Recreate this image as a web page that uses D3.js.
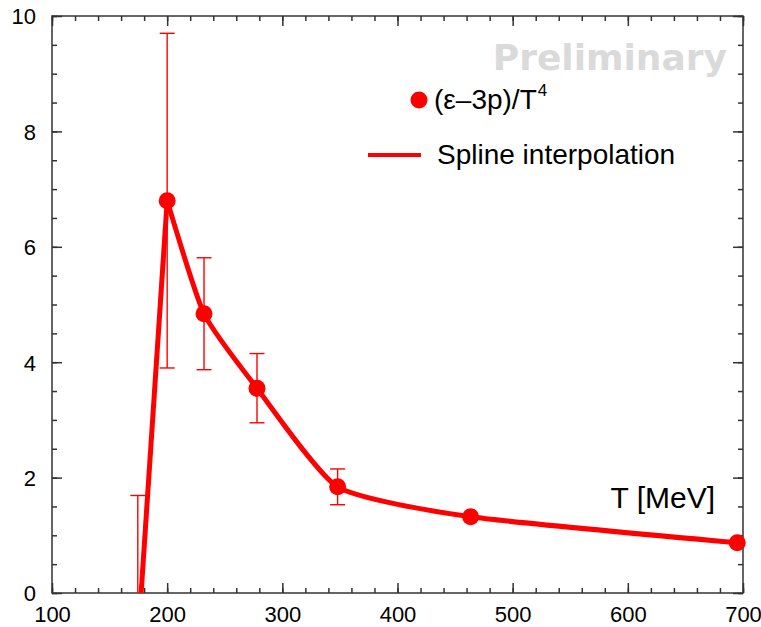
<!DOCTYPE html>
<html>
<head>
<meta charset="utf-8">
<script src="https://cdn.jsdelivr.net/npm/d3@7"></script>
<style>
  html, body { margin: 0; padding: 0; background: #fff; }
  svg { display: block; }
</style>
</head>
<body>
<svg id="chart" width="761" height="627"></svg>
<script>
// ---- data ----
const temperatures = [174.5, 200, 232, 278, 348, 463.5, 695];
const traceAnomaly = [-0.87, 6.8, 4.84, 3.55, 1.84, 1.32, 0.87];
const errors = [2.56, 2.9, 0.97, 0.6, 0.31, 0, 0];
const xTicks = [100, 200, 300, 400, 500, 600, 700];
const yTicks = [0, 2, 4, 6, 8, 10];
const legendLabels = ["(ε–3p)/T", "Spline interpolation"];
const xAxisLabel = "T [MeV]";
const watermark = "Preliminary";

const points = temperatures.map((t, i) => ({ t, v: traceAnomaly[i], e: errors[i] }));

// ---- layout ----
const W = 761, H = 627;
const L = 52, R = 743, T = 16, B = 593;
const red = "#ff0000";
const axisColor = "#333333";

const svg = d3.select("#chart");
const x = d3.scaleLinear().domain([100, 700]).range([L, R]);
const y = d3.scaleLinear().domain([0, 10]).range([B, T]);

svg.append("defs").append("clipPath").attr("id", "clip")
  .append("rect").attr("x", L).attr("y", 0).attr("width", W - L).attr("height", B);

// watermark
svg.append("text")
  .attr("x", 727).attr("y", 70)
  .attr("text-anchor", "end")
  .attr("font-family", "DejaVu Sans, Verdana, sans-serif")
  .attr("font-weight", "bold")
  .attr("font-size", 36)
  .attr("fill", "#dadada")
  .text(watermark);

// ---- axes (frame with inward ticks) ----
const majorX = 10, minorX = 5;
const axes = svg.append("g");
const xMinor = d3.range(100, 700.001, 20);
const yMinor = d3.range(0, 10.001, 0.5);

function inwardAxis(axisGen, tx, ty) {
  const g = axes.append("g").attr("transform", `translate(${tx},${ty})`).call(axisGen);
  g.select(".domain").remove();
  g.selectAll("line").attr("stroke", axisColor).attr("stroke-width", 1.5);
  return g;
}
inwardAxis(d3.axisBottom(x).tickValues(xMinor).tickSize(-minorX).tickFormat(""), 0, B);
inwardAxis(d3.axisTop(x).tickValues(xMinor).tickSize(-minorX).tickFormat(""), 0, T);
inwardAxis(d3.axisLeft(y).tickValues(yMinor).tickSize(-minorX).tickFormat(""), L, 0);
inwardAxis(d3.axisRight(y).tickValues(yMinor).tickSize(-minorX).tickFormat(""), R, 0);

const xb = inwardAxis(d3.axisBottom(x).tickValues(xTicks).tickSize(-majorX).tickFormat(d3.format("d")), 0, B);
xb.selectAll("text").attr("font-family", "Liberation Sans, Arial, sans-serif").attr("font-size", 22)
  .attr("fill", "#000").attr("dy", "0.71em").attr("y", 13);
inwardAxis(d3.axisTop(x).tickValues(xTicks).tickSize(-majorX).tickFormat(""), 0, T);
const yl = inwardAxis(d3.axisLeft(y).tickValues(yTicks).tickSize(-majorX).tickFormat(d3.format("d")), L, 0);
yl.selectAll("text").attr("font-family", "Liberation Sans, Arial, sans-serif").attr("font-size", 22)
  .attr("fill", "#000").attr("x", -16).attr("dy", "0.36em");
inwardAxis(d3.axisRight(y).tickValues(yTicks).tickSize(-majorX).tickFormat(""), R, 0);

axes.append("rect").attr("x", L).attr("y", T).attr("width", R - L).attr("height", B - T)
  .attr("fill", "none").attr("stroke", axisColor).attr("stroke-width", 1.5);

// ---- data layer ----
const data = svg.append("g").attr("clip-path", "url(#clip)");

// spline: linear rise to the peak, cardinal spline afterwards
const lin = d3.line().x(d => x(d.t)).y(d => y(d.v));
const spl = d3.line().x(d => x(d.t)).y(d => y(d.v)).curve(d3.curveCardinal.tension(0.45));
data.append("path").attr("d", lin(points.slice(0, 2)))
  .attr("fill", "none").attr("stroke", red).attr("stroke-width", 5).attr("stroke-linejoin", "round");
data.append("path").attr("d", spl(points.slice(1)))
  .attr("fill", "none").attr("stroke", red).attr("stroke-width", 5).attr("stroke-linejoin", "round");

// error bars
const eb = data.selectAll(".eb").data(points.filter(d => d.e > 0)).join("g").attr("class", "eb")
  .attr("stroke", red).attr("stroke-width", 1.4).attr("fill", "none");
eb.append("line").attr("x1", d => x(d.t)).attr("x2", d => x(d.t))
  .attr("y1", d => y(d.v - d.e)).attr("y2", d => y(d.v + d.e));
eb.append("line").attr("x1", d => x(d.t) - 7.5).attr("x2", d => x(d.t) + 7.5)
  .attr("y1", d => y(d.v + d.e)).attr("y2", d => y(d.v + d.e));
eb.append("line").attr("x1", d => x(d.t) - 7.5).attr("x2", d => x(d.t) + 7.5)
  .attr("y1", d => y(d.v - d.e)).attr("y2", d => y(d.v - d.e));

// markers
data.selectAll(".pt").data(points).join("circle").attr("class", "pt")
  .attr("cx", d => x(d.t)).attr("cy", d => y(d.v)).attr("r", 8.5).attr("fill", red);

// ---- legend ----
const lg = svg.append("g").attr("font-family", "Liberation Sans, Arial, sans-serif").attr("font-size", 28).attr("fill", "#000");
lg.append("circle").attr("cx", 419).attr("cy", 100).attr("r", 8.5).attr("fill", red);
const t1 = lg.append("text").attr("x", 434).attr("y", 109);
t1.append("tspan").text(legendLabels[0]);
t1.append("tspan").attr("font-size", 17).attr("dy", -13).attr("dx", 1).text("4");
lg.append("line").attr("x1", 368).attr("x2", 421).attr("y1", 155).attr("y2", 155)
  .attr("stroke", red).attr("stroke-width", 4);
lg.append("text").attr("x", 437).attr("y", 164).text(legendLabels[1]);

// axis title
svg.append("text").attr("x", 715).attr("y", 508).attr("text-anchor", "end")
  .attr("font-family", "Liberation Sans, Arial, sans-serif").attr("font-size", 30).attr("fill", "#000")
  .text(xAxisLabel);
</script>
</body>
</html>
